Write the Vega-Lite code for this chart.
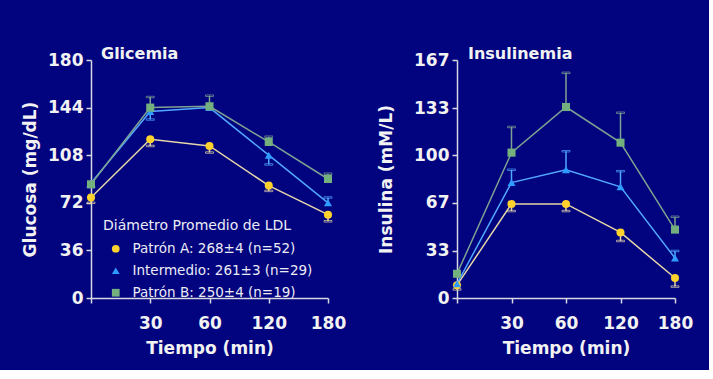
{
  "$schema": "https://vega.github.io/schema/vega-lite/v6.json",
  "background": "#01037f",
  "padding": {"left": 21, "top": 46, "right": 16, "bottom": 14},
  "spacing": 31,
  "config": {
    "view": {"stroke": null},
    "axis": {
      "grid": false,
      "domainColor": "#d8d8e0",
      "tickColor": "#d8d8e0",
      "domainWidth": 1.5,
      "tickWidth": 1.5,
      "tickSize": 5,
      "labelColor": "#f2f2f2",
      "titleColor": "#f2f2f2",
      "labelFont": "DejaVu Sans",
      "titleFont": "DejaVu Sans",
      "labelFontWeight": "bold",
      "titleFontWeight": "bold",
      "labelFontSize": 17,
      "titleFontSize": 17
    },
    "axisX": {"labelPadding": 12, "titlePadding": 9, "labelAngle": 0},
    "axisY": {"labelPadding": 3},
    "title": {"color": "#f2f2f2", "font": "DejaVu Sans", "fontWeight": "bold", "fontSize": 16, "anchor": "start", "frame": "group"}
  },
  "datasets": {
    "d": [
      {"p": "G", "t": 0, "s": "Patrón A: 268±4 (n=52)", "v": 76, "lo": 72, "hi": 76},
      {"p": "G", "t": 30, "s": "Patrón A: 268±4 (n=52)", "v": 120, "lo": 115, "hi": 120},
      {"p": "G", "t": 60, "s": "Patrón A: 268±4 (n=52)", "v": 115, "lo": 110, "hi": 115},
      {"p": "G", "t": 120, "s": "Patrón A: 268±4 (n=52)", "v": 85, "lo": 81, "hi": 85},
      {"p": "G", "t": 180, "s": "Patrón A: 268±4 (n=52)", "v": 63, "lo": 58, "hi": 63},
      {"p": "G", "t": 0, "s": "Intermedio: 261±3 (n=29)", "v": 87, "lo": 84, "hi": 87},
      {"p": "G", "t": 30, "s": "Intermedio: 261±3 (n=29)", "v": 141, "lo": 135, "hi": 141},
      {"p": "G", "t": 60, "s": "Intermedio: 261±3 (n=29)", "v": 144, "lo": 144, "hi": 144},
      {"p": "G", "t": 120, "s": "Intermedio: 261±3 (n=29)", "v": 108, "lo": 101, "hi": 108},
      {"p": "G", "t": 180, "s": "Intermedio: 261±3 (n=29)", "v": 72, "lo": 72, "hi": 76},
      {"p": "G", "t": 0, "s": "Patrón B: 250±4 (n=19)", "v": 86, "lo": 86, "hi": 86},
      {"p": "G", "t": 30, "s": "Patrón B: 250±4 (n=19)", "v": 144, "lo": 144, "hi": 152},
      {"p": "G", "t": 60, "s": "Patrón B: 250±4 (n=19)", "v": 145, "lo": 145, "hi": 153},
      {"p": "G", "t": 120, "s": "Patrón B: 250±4 (n=19)", "v": 118, "lo": 118, "hi": 122},
      {"p": "G", "t": 180, "s": "Patrón B: 250±4 (n=19)", "v": 90, "lo": 90, "hi": 94},
      {"p": "I", "t": 0, "s": "Patrón A: 268±4 (n=52)", "v": 9, "lo": 6, "hi": 9},
      {"p": "I", "t": 30, "s": "Patrón A: 268±4 (n=52)", "v": 66, "lo": 61, "hi": 66},
      {"p": "I", "t": 60, "s": "Patrón A: 268±4 (n=52)", "v": 66, "lo": 61, "hi": 66},
      {"p": "I", "t": 120, "s": "Patrón A: 268±4 (n=52)", "v": 46, "lo": 40, "hi": 46},
      {"p": "I", "t": 180, "s": "Patrón A: 268±4 (n=52)", "v": 14, "lo": 8, "hi": 14},
      {"p": "I", "t": 0, "s": "Intermedio: 261±3 (n=29)", "v": 10, "lo": 10, "hi": 10},
      {"p": "I", "t": 30, "s": "Intermedio: 261±3 (n=29)", "v": 81, "lo": 81, "hi": 90},
      {"p": "I", "t": 60, "s": "Intermedio: 261±3 (n=29)", "v": 90, "lo": 90, "hi": 103},
      {"p": "I", "t": 120, "s": "Intermedio: 261±3 (n=29)", "v": 78, "lo": 78, "hi": 89},
      {"p": "I", "t": 180, "s": "Intermedio: 261±3 (n=29)", "v": 28, "lo": 28, "hi": 33},
      {"p": "I", "t": 0, "s": "Patrón B: 250±4 (n=19)", "v": 17, "lo": 17, "hi": 17},
      {"p": "I", "t": 30, "s": "Patrón B: 250±4 (n=19)", "v": 102, "lo": 102, "hi": 120},
      {"p": "I", "t": 60, "s": "Patrón B: 250±4 (n=19)", "v": 134, "lo": 134, "hi": 158},
      {"p": "I", "t": 120, "s": "Patrón B: 250±4 (n=19)", "v": 109, "lo": 109, "hi": 130},
      {"p": "I", "t": 180, "s": "Patrón B: 250±4 (n=19)", "v": 48, "lo": 48, "hi": 57}
    ]
  },
  "resolve": {
    "scale": {"y": "independent", "x": "independent"},
    "legend": {"fill": "independent", "shape": "independent"}
  },
  "hconcat": [
    {
      "width": 237,
      "height": 238,
      "data": {"name": "d"},
      "transform": [{"filter": "datum.p == 'G'"}],
      "title": {"text": "Glicemia", "dx": 10, "offset": -11},
      "encoding": {
        "x": {"field": "t", "type": "ordinal", "scale": {"type": "point", "padding": 0, "domain": [0, 30, 60, 120, 180]}, "axis": {"title": "Tiempo (min)", "labelExpr": "datum.value == 0 ? '' : datum.label"}}
      },
      "layer": [
        {
          "mark": {"type": "line", "strokeWidth": 1.5},
          "encoding": {
            "y": {"field": "v", "type": "quantitative", "scale": {"domain": [0, 180], "nice": false}, "axis": {"values": [0, 36, 72, 108, 144, 180], "title": "Glucosa (mg/dL)", "titlePadding": 8}},
            "stroke": {"field": "s", "type": "nominal", "scale": {"domain": ["Patrón A: 268±4 (n=52)", "Intermedio: 261±3 (n=29)", "Patrón B: 250±4 (n=19)"], "range": ["#e6d6a8", "#52a8ff", "#7fa392"]}, "legend": null}
          }
        },
        {
          "transform": [{"filter": "datum.hi > datum.lo"}],
          "mark": {"type": "rule", "strokeWidth": 1.5},
          "encoding": {
            "y": {"field": "lo", "type": "quantitative"},
            "y2": {"field": "hi"},
            "stroke": {"field": "s", "type": "nominal", "legend": null}
          }
        },
        {
          "transform": [{"filter": "datum.hi > datum.v"}],
          "mark": {"type": "tick", "orient": "horizontal", "size": 8, "thickness": 1.5},
          "encoding": {
            "y": {"field": "hi", "type": "quantitative"},
            "color": {"value": null},
            "stroke": {"field": "s", "type": "nominal", "legend": null}
          }
        },
        {
          "transform": [{"filter": "datum.lo < datum.v"}],
          "mark": {"type": "tick", "orient": "horizontal", "size": 8, "thickness": 1.5},
          "encoding": {
            "y": {"field": "lo", "type": "quantitative"},
            "color": {"value": null},
            "stroke": {"field": "s", "type": "nominal", "legend": null}
          }
        },
        {
          "mark": {"type": "point", "filled": true, "size": 65, "opacity": 1},
          "encoding": {
            "y": {"field": "v", "type": "quantitative"},
            "fill": {"field": "s", "type": "nominal", "scale": {"domain": ["Patrón A: 268±4 (n=52)", "Intermedio: 261±3 (n=29)", "Patrón B: 250±4 (n=19)"], "range": ["#ffd22e", "#2f9bff", "#74b07e"]},
              "legend": {"title": "Diámetro Promedio de LDL", "orient": "none", "legendX": 12, "legendY": 159, "titleFont": "DejaVu Sans", "titleFontWeight": "normal", "titleFontSize": 14, "titleLimit": 400, "titleColor": "#ececf4", "labelFont": "DejaVu Sans", "labelFontSize": 13.5, "labelColor": "#ececf4", "labelLimit": 400, "symbolSize": 60, "symbolStrokeWidth": 0, "symbolOffset": 6, "labelOffset": 10, "rowPadding": 7, "titlePadding": 9}},
            "shape": {"field": "s", "type": "nominal", "scale": {"domain": ["Patrón A: 268±4 (n=52)", "Intermedio: 261±3 (n=29)", "Patrón B: 250±4 (n=19)"], "range": ["circle", "triangle-up", "square"]},
              "legend": {"title": "Diámetro Promedio de LDL", "orient": "none", "legendX": 12, "legendY": 159}}
          }
        }
      ]
    },
    {
      "width": 218,
      "height": 238,
      "data": {"name": "d"},
      "transform": [{"filter": "datum.p == 'I'"}],
      "title": {"text": "Insulinemia", "dx": 11, "offset": -11},
      "encoding": {
        "x": {"field": "t", "type": "ordinal", "scale": {"type": "point", "padding": 0, "domain": [0, 30, 60, 120, 180]}, "axis": {"title": "Tiempo (min)", "labelExpr": "datum.value == 0 ? '' : datum.label"}}
      },
      "layer": [
        {
          "mark": {"type": "line", "strokeWidth": 1.5},
          "encoding": {
            "y": {"field": "v", "type": "quantitative", "scale": {"domain": [0, 167], "nice": false}, "axis": {"values": [0, 33, 67, 100, 133, 167], "title": "Insulina (mM/L)", "titlePadding": 18}},
            "stroke": {"field": "s", "type": "nominal", "scale": {"domain": ["Patrón A: 268±4 (n=52)", "Intermedio: 261±3 (n=29)", "Patrón B: 250±4 (n=19)"], "range": ["#e6d6a8", "#52a8ff", "#7fa392"]}, "legend": null}
          }
        },
        {
          "transform": [{"filter": "datum.hi > datum.lo"}],
          "mark": {"type": "rule", "strokeWidth": 1.5},
          "encoding": {
            "y": {"field": "lo", "type": "quantitative"},
            "y2": {"field": "hi"},
            "stroke": {"field": "s", "type": "nominal", "legend": null}
          }
        },
        {
          "transform": [{"filter": "datum.hi > datum.v"}],
          "mark": {"type": "tick", "orient": "horizontal", "size": 8, "thickness": 1.5},
          "encoding": {
            "y": {"field": "hi", "type": "quantitative"},
            "color": {"value": null},
            "stroke": {"field": "s", "type": "nominal", "legend": null}
          }
        },
        {
          "transform": [{"filter": "datum.lo < datum.v"}],
          "mark": {"type": "tick", "orient": "horizontal", "size": 8, "thickness": 1.5},
          "encoding": {
            "y": {"field": "lo", "type": "quantitative"},
            "color": {"value": null},
            "stroke": {"field": "s", "type": "nominal", "legend": null}
          }
        },
        {
          "mark": {"type": "point", "filled": true, "size": 65, "opacity": 1},
          "encoding": {
            "y": {"field": "v", "type": "quantitative"},
            "fill": {"field": "s", "type": "nominal", "scale": {"domain": ["Patrón A: 268±4 (n=52)", "Intermedio: 261±3 (n=29)", "Patrón B: 250±4 (n=19)"], "range": ["#ffd22e", "#2f9bff", "#74b07e"]}, "legend": null},
            "shape": {"field": "s", "type": "nominal", "scale": {"domain": ["Patrón A: 268±4 (n=52)", "Intermedio: 261±3 (n=29)", "Patrón B: 250±4 (n=19)"], "range": ["circle", "triangle-up", "square"]}, "legend": null}
          }
        }
      ]
    }
  ]
}
